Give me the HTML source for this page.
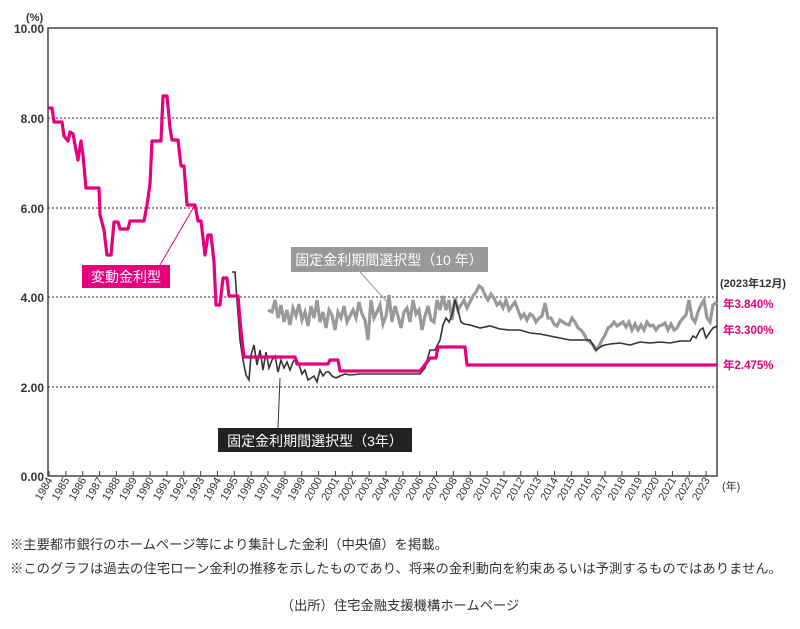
<!DOCTYPE html>
<html><head><meta charset="utf-8"><style>
body{margin:0;background:#fff;width:800px;height:624px;overflow:hidden;font-family:"Liberation Sans","Noto Sans CJK JP",sans-serif}
svg text{font-family:"Liberation Sans","Noto Sans CJK JP",sans-serif}
</style></head><body>
<svg width="800" height="624" viewBox="0 0 800 624">
<g stroke="#555" stroke-width="1.2" stroke-dasharray="2,2">
<line x1="48" y1="118" x2="717" y2="118"/><line x1="48" y1="208" x2="717" y2="208"/>
<line x1="48" y1="297" x2="717" y2="297"/><line x1="48" y1="387" x2="717" y2="387"/>
</g>
<rect x="48" y="28" width="669" height="448" fill="none" stroke="#444" stroke-width="1.5"/>
<g font-size="12" font-weight="bold" fill="#333" text-anchor="end">
<text x="44" y="33">10.00</text><text x="44" y="123">8.00</text><text x="44" y="213">6.00</text><text x="44" y="302">4.00</text><text x="44" y="392">2.00</text><text x="44" y="481">0.00</text>
</g>
<text x="26" y="21" font-size="11" font-weight="bold" fill="#333">(%)</text>
<g id="ticks" stroke="#444" stroke-width="1"></g>
<g id="xl" font-size="11" fill="#333"></g>
<text x="722" y="490" font-size="11" fill="#333">(年)</text>
<polyline fill="none" stroke="#999" stroke-width="3.2" points="268,310 272,312 275,300 278,318 281,305 284,322 287,310 290,325 293,308 296,316 299,304 302,320 305,312 308,326 311,306 314,318 317,300 320,322 323,312 326,328 329,310 332,315 335,330 338,312 341,318 344,306 347,322 350,316 353,310 356,318 359,302 362,314 365,320 368,340 371,300 374,318 377,312 380,305 383,324 386,316 389,295 392,322 395,306 398,316 401,328 404,312 407,308 410,322 413,300 416,314 419,310 422,330 425,316 428,306 431,320 434,322 437,300 440,310 443,296 446,310 449,300 452,320 455,298 458,310 461,305 464,300 467,308 470,302 473,296 476,292 479,286 482,288 485,295 488,300 491,294 494,298 497,305 500,302 503,308 506,300 509,310 512,306 515,302 518,310 521,318 524,314 527,320 530,314 533,316 536,322 539,318 542,316 545,303 548,318 551,318 554,324 557,326 560,320 563,322 566,324 569,325 572,318 575,322 578,328 581,330 584,334 587,340 590,342 593,345 596,350 599,346 602,340 605,335 608,328 611,326 614,322 617,326 620,324 623,322 626,327 629,322 632,330 635,324 638,330 641,325 644,330 647,322 650,326 653,325 656,330 659,326 662,325 665,323 668,330 671,324 674,330 677,328 680,322 683,318 686,315 689,300 692,318 695,322 698,312 701,305 704,300 707,318 710,322 713,305 717,302"/>
<polyline fill="none" stroke="#333" stroke-width="1.6" points="232,272 235,272 237,300 240,340 243,360 246,375 249,380 251,355 254,345 257,365 260,350 263,370 266,352 269,368 272,360 275,356 278,372 281,360 284,368 287,362 290,370 293,362 296,358 299,365 302,374 305,370 308,380 311,378 314,376 317,382 320,370 323,376 326,372 329,372 332,376 336,378 340,376 345,374 350,375 360,374 380,374 400,374 420,374 425,368 430,350 435,350 440,340 443,325 446,318 449,322 452,315 455,300 458,310 461,322 464,324 470,325 480,328 490,326 500,329 510,330 520,330 530,333 540,334 550,336 560,338 570,340 580,340 590,340 593,345 596,350 599,348 602,346 605,345 610,344 620,343 630,345 640,342 650,343 660,342 670,343 680,341 690,341 693,336 696,338 700,330 703,328 706,338 710,332 713,328 717,326"/>
<polyline fill="none" stroke="#e6007e" stroke-width="3.2" stroke-linejoin="round" points="48,108 52,108 54,122 62,122 64,136 68,141 70,132 73,134 76,150 78,160 81,141 83,155 86,188 99,188 100,215 104,230 107,255 111,255 114,222 118,222 120,229 128,229 130,221 144,221 147,205 150,184 152,141 161,141 163,96 167,96 170,128 172,140 178,140 181,166 184,166 187,205 195,205 198,221 201,221 205,255 208,235 211,235 214,262 216,305 220,305 223,278 227,278 229,296 238,296 240,320 242,340 244,357 295,357 297,364 328,364 330,360 338,360 340,371 420,371 424,366 430,358 436,358 438,347 465,347 467,365 717,365"/>
<line x1="160" y1="265" x2="195" y2="205" stroke="#e6007e" stroke-width="1"/>
<rect x="82" y="265" width="88" height="23" fill="#e6007e"/>
<text x="126" y="282" font-size="14" fill="#fff" text-anchor="middle">変動金利型</text>
<line x1="360" y1="272" x2="390" y2="305" stroke="#999" stroke-width="1"/>
<rect x="291" y="247" width="197" height="25" fill="#999"/>
<text x="389" y="265" font-size="14" fill="#fff" text-anchor="middle">固定金利期間選択型（10 年）</text>
<line x1="278" y1="428" x2="280" y2="378" stroke="#333" stroke-width="1"/>
<rect x="218" y="428" width="194" height="24" fill="#222"/>
<text x="315" y="446" font-size="14" fill="#fff" text-anchor="middle">固定金利期間選択型（3年）</text>
<text x="720" y="287" font-size="11" font-weight="bold" fill="#333">(2023年12月)</text>
<g font-size="11.5" font-weight="bold" fill="#e6007e">
<text x="723" y="308">年3.840%</text><text x="723" y="334">年3.300%</text><text x="723" y="369">年2.475%</text>
</g>
<g font-size="13.3" fill="#333">
<text x="10" y="549">※主要都市銀行のホームページ等により集計した金利（中央値）を掲載。</text>
<text x="10" y="573" textLength="772" lengthAdjust="spacingAndGlyphs">※このグラフは過去の住宅ローン金利の推移を示したものであり、将来の金利動向を約束あるいは予測するものではありません。</text>
<text x="400" y="610" text-anchor="middle">（出所）住宅金融支援機構ホームページ</text>
</g>
</svg>
<script>
var t=document.getElementById('ticks'),xl=document.getElementById('xl'),ns='http://www.w3.org/2000/svg';
for(var i=0;i<40;i++){var x=49+16.85*i;
var l=document.createElementNS(ns,'line');l.setAttribute('x1',x);l.setAttribute('x2',x);l.setAttribute('y1',471);l.setAttribute('y2',476);t.appendChild(l);
var tx=document.createElementNS(ns,'text');tx.setAttribute('transform','translate('+(x+4)+',480) rotate(-60)');tx.setAttribute('text-anchor','end');tx.textContent=1984+i;xl.appendChild(tx);}
</script>
</body></html>
